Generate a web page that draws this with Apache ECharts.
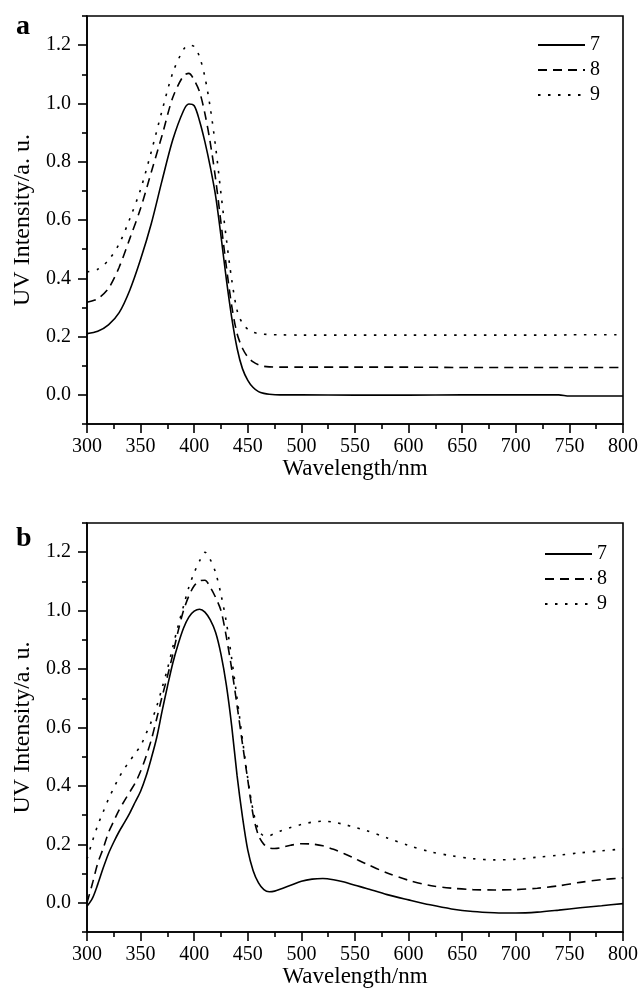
<!DOCTYPE html>
<html>
<head>
<meta charset="utf-8">
<script src="https://cdn.jsdelivr.net/npm/echarts@6/dist/echarts.min.js"></script>
<style>
html,body{margin:0;padding:0;background:#fff;}
#chart{width:641px;height:990px;}
</style>
</head>
<body>
<div id="chart"></div>
<script>
// ---------- data ----------
const seriesNames = ['7', '8', '9'];
const xTickLabels = [300, 350, 400, 450, 500, 550, 600, 650, 700, 750, 800];
const yTickLabels = [0.0, 0.2, 0.4, 0.6, 0.8, 1.0, 1.2];
const yMinorTicks = [-0.1, 0.1, 0.3, 0.5, 0.7, 0.9, 1.1, 1.3];

// panel a
const wavelengthA = [300,310,320,330,340,350,360,370,380,390,395,400,405,410,415,420,425,430,435,440,445,450,455,460,465,470,480,500,550,600,650,700,740,750,800];
const a7 = [0.210,0.218,0.240,0.282,0.360,0.465,0.588,0.735,0.875,0.975,0.998,0.992,0.940,0.868,0.782,0.682,0.545,0.396,0.265,0.160,0.090,0.050,0.025,0.011,0.005,0.002,0.000,0.000,-0.001,-0.001,0.000,0.000,0.000,-0.004,-0.004];
const a8 = [0.318,0.330,0.365,0.438,0.537,0.640,0.765,0.890,1.020,1.095,1.103,1.080,1.040,0.965,0.865,0.740,0.590,0.440,0.305,0.210,0.160,0.130,0.113,0.103,0.098,0.096,0.095,0.095,0.095,0.095,0.094,0.094,0.094,0.094,0.094];
const a9 = [0.422,0.431,0.462,0.518,0.605,0.705,0.835,0.975,1.105,1.185,1.200,1.195,1.160,1.090,0.985,0.850,0.690,0.535,0.395,0.290,0.245,0.225,0.215,0.210,0.208,0.207,0.206,0.205,0.205,0.205,0.205,0.205,0.205,0.206,0.206];

// panel b
const wavelengthB = [300,305,310,315,320,325,330,335,340,345,350,355,360,365,370,375,380,385,390,395,400,405,410,415,420,425,430,435,440,445,450,455,460,465,470,475,480,490,500,510,520,530,540,550,560,580,600,620,640,660,680,700,720,740,760,780,800];
const b7 = [-0.012,0.015,0.063,0.118,0.168,0.208,0.244,0.275,0.308,0.345,0.382,0.432,0.495,0.565,0.655,0.740,0.820,0.885,0.940,0.978,0.998,1.005,0.995,0.968,0.925,0.850,0.745,0.605,0.435,0.295,0.180,0.110,0.068,0.045,0.038,0.040,0.046,0.060,0.074,0.081,0.083,0.079,0.071,0.060,0.050,0.028,0.010,-0.007,-0.021,-0.030,-0.034,-0.035,-0.032,-0.025,-0.017,-0.010,-0.003];
const b8 = [0.000,0.065,0.135,0.185,0.240,0.280,0.318,0.350,0.380,0.410,0.450,0.500,0.558,0.630,0.705,0.775,0.850,0.930,1.000,1.050,1.085,1.102,1.104,1.080,1.045,1.000,0.910,0.800,0.675,0.545,0.420,0.300,0.230,0.200,0.188,0.186,0.188,0.197,0.202,0.201,0.195,0.183,0.168,0.151,0.134,0.102,0.077,0.059,0.050,0.045,0.044,0.045,0.050,0.058,0.070,0.079,0.085];
const b9 = [0.150,0.210,0.265,0.310,0.355,0.393,0.430,0.460,0.486,0.512,0.537,0.578,0.620,0.672,0.735,0.800,0.875,0.948,1.015,1.080,1.130,1.170,1.200,1.175,1.130,1.055,0.960,0.835,0.700,0.560,0.425,0.315,0.250,0.230,0.230,0.238,0.245,0.258,0.268,0.276,0.279,0.276,0.268,0.258,0.248,0.222,0.196,0.175,0.161,0.151,0.147,0.149,0.156,0.163,0.171,0.178,0.184];

// ---------- chart ----------
const FONT = 'Liberation Serif';
const zip = (xs, ys) => xs.map((x, i) => [x, ys[i]]);
const lineTypes = ['solid', [9, 6], [2.5, 7.5]];

const chart = echarts.init(document.getElementById('chart'), null, {renderer: 'canvas'});

const grids = [
  {left: 87, width: 536, top: 16, height: 408},
  {left: 87, width: 536, top: 523, height: 409}
];

function xAxisFor(g) {
  return {
    type: 'value', gridIndex: g, min: 300, max: 800, interval: 50,
    name: 'Wavelength/nm', nameLocation: 'middle', nameGap: 33,
    nameTextStyle: {fontFamily: FONT, fontSize: 23, color: '#000'},
    axisLine: {show: true, onZero: false, lineStyle: {color: '#000', width: 1.6}},
    axisTick: {show: true, inside: false, length: 9, lineStyle: {color: '#000', width: 1.6}},
    minorTick: {show: true, splitNumber: 2, length: 5, lineStyle: {color: '#000', width: 1.6}},
    axisLabel: {fontFamily: FONT, fontSize: 20, color: '#000', margin: 13,
      customValues: xTickLabels, formatter: v => String(v)},
    splitLine: {show: false}
  };
}
function yAxesFor(g) {
  return [{
    type: 'value', gridIndex: g, position: 'left', min: -0.1, max: 1.3, interval: 0.1,
    name: 'UV Intensity/a. u.', nameLocation: 'middle', nameGap: 47,
    nameTextStyle: {fontFamily: FONT, fontSize: 24, color: '#000'},
    axisLine: {show: true, onZero: false, lineStyle: {color: '#000', width: 1.6}},
    axisTick: {show: true, inside: false, length: 9, customValues: yTickLabels, lineStyle: {color: '#000', width: 1.6}},
    axisLabel: {fontFamily: FONT, fontSize: 20, color: '#000', margin: 16,
      customValues: yTickLabels, formatter: v => v.toFixed(1)},
    splitLine: {show: false}
  }, {
    type: 'value', gridIndex: g, position: 'left', min: -0.1, max: 1.3, interval: 0.1,
    axisLine: {show: false, onZero: false},
    axisTick: {show: true, inside: false, length: 5, customValues: yMinorTicks, lineStyle: {color: '#000', width: 1.6}},
    axisLabel: {show: false},
    splitLine: {show: false}
  }];
}

const panelData = [
  [zip(wavelengthA, a7), zip(wavelengthA, a8), zip(wavelengthA, a9)],
  [zip(wavelengthB, b7), zip(wavelengthB, b8), zip(wavelengthB, b9)]
];

const series = [];
panelData.forEach((sets, g) => {
  sets.forEach((d, i) => {
    series.push({
      type: 'line', name: seriesNames[i], xAxisIndex: g, yAxisIndex: g * 2,
      data: d, symbol: 'none', smooth: 0.3,
      lineStyle: {color: '#000', width: 1.6, type: lineTypes[i]},
      itemStyle: {color: '#000'}
    });
  });
});

const legendCommon = {
  orient: 'vertical', data: seriesNames, itemWidth: 47, itemHeight: 14, itemGap: 5,
  padding: 0, selectedMode: false,
  itemStyle: {opacity: 0},
  textStyle: {fontFamily: FONT, fontSize: 20, lineHeight: 20, color: '#000'}
};

chart.setOption({
  animation: false,
  backgroundColor: '#fff',
  title: [
    {text: 'a', left: 16, top: 13, padding: 0, textStyle: {fontFamily: FONT, fontSize: 28, fontWeight: 'bold', color: '#000'}},
    {text: 'b', left: 16, top: 525, padding: 0, textStyle: {fontFamily: FONT, fontSize: 28, fontWeight: 'bold', color: '#000'}}
  ],
  legend: [
    Object.assign({left: 537, top: 35}, legendCommon),
    Object.assign({left: 544, top: 544}, legendCommon)
  ],
  grid: grids.map(g => Object.assign({show: true, borderColor: '#000', borderWidth: 1.6, backgroundColor: 'transparent'}, g)),
  xAxis: [xAxisFor(0), xAxisFor(1)],
  yAxis: yAxesFor(0).concat(yAxesFor(1)),
  series: series
});
</script>
</body>
</html>
